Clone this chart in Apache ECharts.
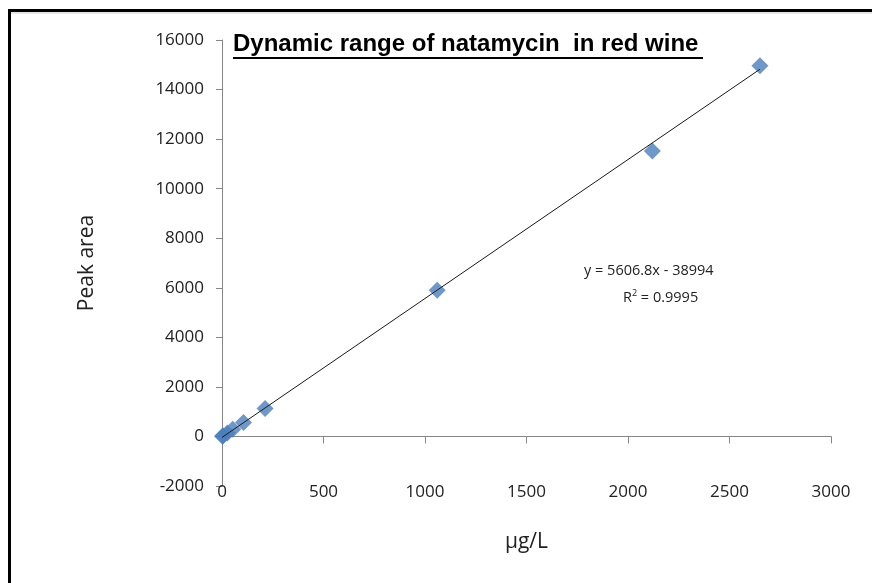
<!DOCTYPE html>
<html>
<head>
<meta charset="UTF-8">
<title>Dynamic range of natamycin in red wine</title>
<script src="https://cdn.jsdelivr.net/npm/echarts@6/dist/echarts.min.js"></script>
</head>
<body style="margin:0;background:#fff;">
<div id="box" style="width:872px;height:583px;"></div>
<script>
// calibration points: concentration (µg/L) -> peak area
var conc = [2.6, 5.3, 26.5, 53, 106, 212, 1060, 2120, 2650];
var area = [10, 30, 140, 290, 560, 1130, 5900, 11520, 14960];
// linear trendline ends
var trendX = [0, 2650];
var trendY = [-40, 14820];
// axis ticks
var xTicks = [0, 500, 1000, 1500, 2000, 2500, 3000];
var yTicks = [-2000, 0, 2000, 4000, 6000, 8000, 10000, 12000, 14000, 16000];
var eqLines = ['y = 5606.8x - 38994', 'R{sup|2} = 0.9995'];

var pts = conc.map(function (c, i) { return [c, area[i]]; });
var trend = trendX.map(function (x, i) { return [x, trendY[i]]; });

var labelFont = 'Open Sans';
var axisGray = '#868686';
var plain = function (v) { return String(v); };

var mychart = echarts.init(document.getElementById('box'));

var option = {
  backgroundColor: '#fff',
  animation: false,
  grid: { left: 222, top: 40, right: 41, bottom: 97 },
  xAxis: [{
    type: 'value',
    min: xTicks[0], max: xTicks[xTicks.length - 1], interval: xTicks[1] - xTicks[0],
    axisLine: { onZero: true, lineStyle: { color: axisGray } },
    axisTick: { length: 7, lineStyle: { color: axisGray } },
    axisLabel: { show: false },
    splitLine: { show: false }
  }, {
    type: 'value', position: 'bottom',
    min: xTicks[0], max: xTicks[xTicks.length - 1], interval: xTicks[1] - xTicks[0],
    axisLine: { show: false },
    axisTick: { show: false },
    axisLabel: { margin: -2, fontFamily: labelFont, fontSize: 17, color: '#222', formatter: plain },
    splitLine: { show: false },
    name: 'µg/L', nameLocation: 'middle', nameGap: 46,
    nameTextStyle: { fontFamily: labelFont, fontSize: 21, color: '#222' }
  }],
  yAxis: {
    type: 'value',
    min: yTicks[0], max: yTicks[yTicks.length - 1], interval: yTicks[1] - yTicks[0],
    axisLine: { show: true, onZero: false, lineStyle: { color: axisGray } },
    axisTick: { show: true, length: 6, lineStyle: { color: axisGray } },
    axisLabel: { margin: 18, fontFamily: labelFont, fontSize: 17, color: '#222', formatter: plain },
    splitLine: { show: false },
    name: 'Peak area', nameLocation: 'middle', nameGap: 124,
    nameTextStyle: { fontFamily: labelFont, fontSize: 21, color: '#222' }
  },
  series: [{
    type: 'scatter',
    data: pts,
    symbol: 'diamond',
    symbolSize: 17,
    itemStyle: { color: '#4A7EBB' },
    z: 2
  }, {
    type: 'line',
    data: trend,
    symbol: 'none',
    lineStyle: { color: '#1a1a1a', width: 1 },
    z: 3
  }],
  graphic: [
    // frame of the figure
    { type: 'line', shape: { x1: 8, y1: 10.5, x2: 872, y2: 10.5 }, style: { stroke: '#000', lineWidth: 3 } },
    { type: 'line', shape: { x1: 9.5, y1: 9, x2: 9.5, y2: 583 }, style: { stroke: '#000', lineWidth: 3 } },
    { type: 'line', shape: { x1: 11, y1: 13, x2: 872, y2: 13 }, style: { stroke: '#ccc', lineWidth: 1 } },
    // title with underline
    { type: 'text', left: 233, top: 32,
      style: { text: 'Dynamic range of natamycin  in red wine', font: 'bold 24px "Liberation Sans"', fill: '#000' } },
    { type: 'rect', shape: { x: 233, y: 57, width: 470, height: 2 }, style: { fill: '#000' } },
    // trendline equation
    { type: 'text', left: 584, top: 263,
      style: { text: eqLines[0], font: '14.5px "Open Sans"', fill: '#222' } },
    { type: 'text', left: 623, top: 289,
      style: { text: eqLines[1], font: '14.5px "Open Sans"', fill: '#222',
        rich: { sup: { fontSize: 9, verticalAlign: 'top', padding: [0, 0, 8, 0], fontFamily: 'Open Sans', fill: '#222' } } } }
  ]
};

mychart.setOption(option);
</script>
</body>
</html>
